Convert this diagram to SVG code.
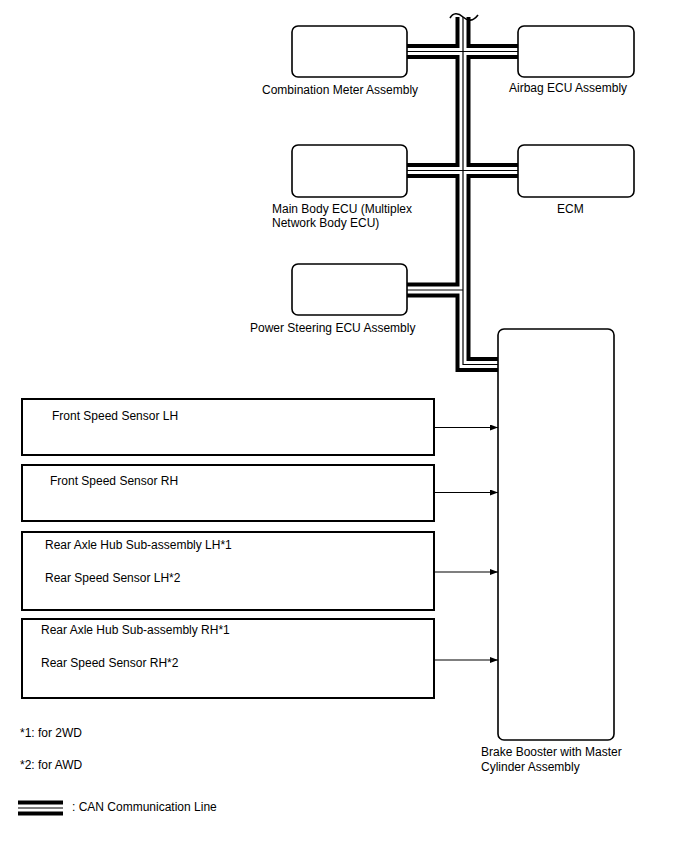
<svg xmlns="http://www.w3.org/2000/svg" width="688" height="852" viewBox="0 0 688 852">
<defs>
<style>
text{font-family:"Liberation Sans",Arial,sans-serif;font-size:12px;fill:#000}
.ecu{fill:#fff;stroke:#000;stroke-width:1.6}
.sens{fill:#fff;stroke:#000;stroke-width:2}
.bk{fill:none;stroke:#000;stroke-width:15;stroke-linejoin:miter}
.wh{fill:none;stroke:#fff;stroke-width:7;stroke-linejoin:miter}
.cl{fill:none;stroke:#000;stroke-width:1.2}
.arr{stroke:#000;stroke-width:1.2;fill:none}
</style>
<marker id="ah" markerWidth="8" markerHeight="6" refX="8" refY="3" orient="auto" markerUnits="userSpaceOnUse">
<path d="M0,0 L8,3 L0,6 Z" fill="#000"/>
</marker>
</defs>
<rect width="688" height="852" fill="#fff"/>

<g id="connectors">
<g id="can-bus">
<path class="bk" d="M463 17 V364.5 H498"/>
<path class="bk" d="M407 51.5 H518"/>
<path class="bk" d="M407 170.5 H518"/>
<path class="bk" d="M407 290 H463"/>
<path class="wh" d="M463 17 V364.5 H498"/>
<path class="wh" d="M407 51.5 H518"/>
<path class="wh" d="M407 170.5 H518"/>
<path class="wh" d="M407 290 H463"/>
<path class="cl" d="M463 17 V364.5 H498"/>
<path class="cl" d="M407 51.5 H518"/>
<path class="cl" d="M407 170.5 H518"/>
<path class="cl" d="M407 290 H463"/>
<path d="M450 18 C453 12.5, 458 12.5, 463 17 S473 21.5, 478 15" fill="none" stroke="#000" stroke-width="1.6"/>
</g>
<g id="sensor-lines">
<line class="arr" x1="434" y1="427.5" x2="498" y2="427.5" marker-end="url(#ah)"/>
<line class="arr" x1="434" y1="492.5" x2="498" y2="492.5" marker-end="url(#ah)"/>
<line class="arr" x1="434" y1="572" x2="498" y2="572" marker-end="url(#ah)"/>
<line class="arr" x1="434" y1="660" x2="498" y2="660" marker-end="url(#ah)"/>
</g>
</g>

<g id="combination-meter">
<rect class="ecu" x="292" y="26" width="115" height="51" rx="6"/>
<text x="262" y="94">Combination Meter Assembly</text>
</g>
<g id="airbag-ecu">
<rect class="ecu" x="518" y="26" width="116" height="51" rx="6"/>
<text x="509" y="92">Airbag ECU Assembly</text>
</g>
<g id="main-body-ecu">
<rect class="ecu" x="292" y="145" width="115" height="52" rx="6"/>
<text x="272" y="213">Main Body ECU (Multiplex</text>
<text x="272" y="227">Network Body ECU)</text>
</g>
<g id="ecm">
<rect class="ecu" x="518" y="145" width="116" height="52" rx="6"/>
<text x="557" y="213">ECM</text>
</g>
<g id="power-steering-ecu">
<rect class="ecu" x="292" y="264" width="115" height="51" rx="6"/>
<text x="250" y="332">Power Steering ECU Assembly</text>
</g>
<g id="brake-booster">
<rect class="ecu" x="498" y="329" width="116" height="411" rx="6"/>
<text x="481" y="756">Brake Booster with Master</text>
<text x="481" y="771">Cylinder Assembly</text>
</g>

<g id="front-speed-sensor-lh">
<rect class="sens" x="22" y="399" width="412" height="56"/>
<text x="52" y="420">Front Speed Sensor LH</text>
</g>
<g id="front-speed-sensor-rh">
<rect class="sens" x="22" y="465" width="412" height="56"/>
<text x="50" y="485">Front Speed Sensor RH</text>
</g>
<g id="rear-lh">
<rect class="sens" x="22" y="532" width="412" height="78"/>
<text x="45" y="549">Rear Axle Hub Sub-assembly LH*1</text>
<text x="45" y="582">Rear Speed Sensor LH*2</text>
</g>
<g id="rear-rh">
<rect class="sens" x="22" y="619" width="412" height="79"/>
<text x="41" y="634">Rear Axle Hub Sub-assembly RH*1</text>
<text x="41" y="667">Rear Speed Sensor RH*2</text>
</g>

<g id="notes">
<text x="20" y="737">*1: for 2WD</text>
<text x="20" y="769">*2: for AWD</text>
</g>
<g id="legend">
<path class="bk" d="M18 808 H63"/>
<path class="wh" d="M18 808 H63"/>
<path class="cl" d="M18 808 H63"/>
<text x="72" y="811">: CAN Communication Line</text>
</g>
</svg>
